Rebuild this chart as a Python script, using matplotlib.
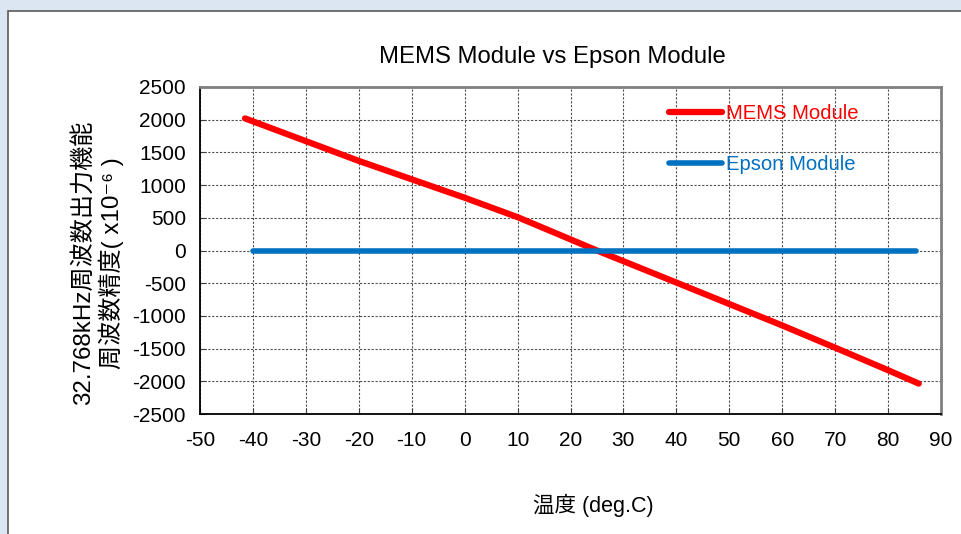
import numpy as np
import matplotlib.pyplot as plt
from matplotlib.patches import Rectangle

plt.rcParams['font.family'] = ['Liberation Sans', 'Noto Sans CJK JP', 'DejaVu Sans']
plt.rcParams['axes.unicode_minus'] = False

# datos
mems_t = [-41.5, -20, 0, 10, 25, 40, 60, 70, 80, 85.8]
mems_ppm = [2020, 1370, 807, 510, 0, -490, -1146, -1486, -1830, -2035]
epson_t = [-40, 85.3]
epson_ppm = [0, 0]

xticks = np.arange(-50, 91, 10)
yticks = np.arange(-2500, 2501, 500)

fig = plt.figure(figsize=(9.62, 5.34), dpi=100)
fig.patch.set_facecolor('#dce6f2')
# panel blanco
fig.patches.append(Rectangle((8/962, -0.1), 1.1, 1 - 11/534 + 0.1, transform=fig.transFigure,
                             facecolor='white', edgecolor='#5a5a5a', lw=1.2, zorder=-5))

ax = fig.add_axes([200/962, 1 - 414/534, 741/962, 327/534])
ax.set_zorder(2)
ax.plot(mems_t, mems_ppm, color='#ff0000', lw=4.5, solid_capstyle='round', label='MEMS Module', zorder=3)
ax.plot(epson_t, epson_ppm, color='#0070c0', lw=4.0, solid_capstyle='round', label='Epson Module', zorder=4)

ax.set_xlim(-50, 90)
ax.set_ylim(-2500, 2500)
ax.set_xticks(xticks)
ax.set_yticks(yticks)
ax.grid(True, color='#505050', lw=0.8, linestyle=(0, (2, 1.5)))
ax.tick_params(direction='in', length=4, labelsize=15, color='#404040')
ax.tick_params(axis='x', pad=12)
ax.tick_params(axis='y', pad=10)
for s in ['left', 'bottom']:
    ax.spines[s].set_color('black')
    ax.spines[s].set_linewidth(1.3)
for s in ['top', 'right']:
    ax.spines[s].set_color('#808080')
    ax.spines[s].set_linewidth(2)

ax.set_title('MEMS Module vs Epson Module', fontsize=17.2, pad=17, x=0.476)
leg = ax.legend(loc='upper left', bbox_to_anchor=(0.633, 0.947), frameon=False, fontsize=14.6,
                handlelength=2.6, handletextpad=0.2, labelspacing=1.55, labelcolor='linecolor',
                borderpad=0, borderaxespad=0)

fig.text(98/962, 1 - 263/534, '32.768kHz周波数出力機能\n周波数精度( x10⁻⁶ )', rotation=90,
         ha='center', va='center', multialignment='center', fontsize=17.4, linespacing=1.2,
         family=['Liberation Sans', 'DejaVu Sans', 'Noto Sans CJK JP'])
fig.text(593/962, 1 - 505/534, '温度 (deg.C)', ha='center', va='center', fontsize=15.5)

plt.savefig('out.png', dpi=100, facecolor=fig.get_facecolor())
